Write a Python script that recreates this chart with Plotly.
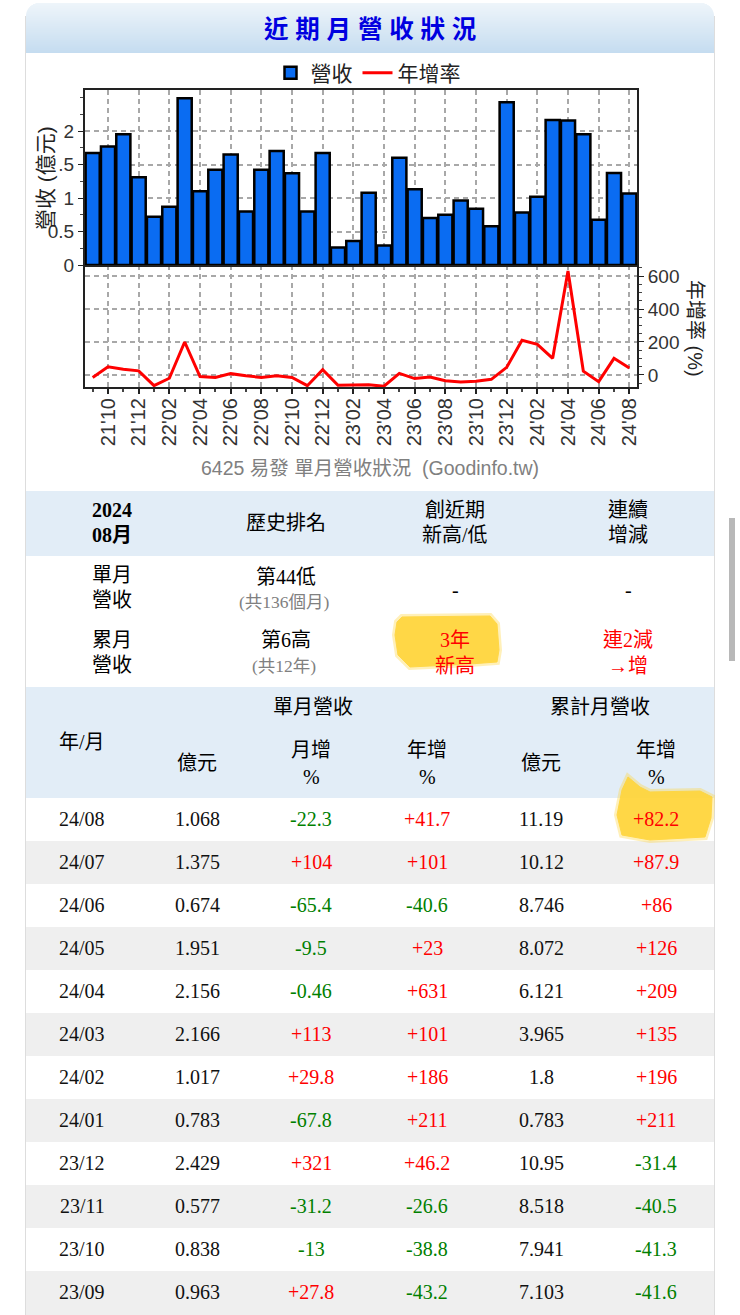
import math
import plotly.graph_objects as go

W, H = 740, 1315
months = ["21'09","21'10","21'11","21'12","22'01","22'02","22'03","22'04","22'05","22'06","22'07","22'08",
          "22'09","22'10","22'11","22'12","23'01","23'02","23'03","23'04","23'05","23'06","23'07","23'08",
          "23'09","23'10","23'11","23'12","24'01","24'02","24'03","24'04","24'05","24'06","24'07","24'08"]
revenue = [1.67,1.77,1.95,1.31,0.72,0.87,2.49,1.10,1.42,1.65,0.80,1.42,
           1.70,1.37,0.80,1.67,0.26,0.36,1.08,0.29,1.60,1.13,0.70,0.75,
           0.963,0.838,0.577,2.429,0.783,1.017,2.166,2.156,1.951,0.674,1.375,1.068]
yoy = [-15,50,35,25,-65,-20,200,-10,-15,8,-5,-15,
       -5,-15,-65,32,-62,-62,-60,-68,10,-22,-12,-35,
       -43.2,-38.8,-26.6,46.2,211,186,101,631,23,-40.6,101,41.7]

rev_ticks = [0,0.5,1,1.5,2]
rev_labels = ["0","0.5","1",".5","2"]
yoy_ticks = [0,200,400,600]

t_month = ["24/08","24/07","24/06","24/05","24/04","24/03","24/02","24/01","23/12","23/11","23/10","23/09"]
t_rev = ["1.068","1.375","0.674","1.951","2.156","2.166","1.017","0.783","2.429","0.577","0.838","0.963"]
t_mom = ["-22.3","+104","-65.4","-9.5","-0.46","+113","+29.8","-67.8","+321","-31.2","-13","+27.8"]
t_yoy = ["+41.7","+101","-40.6","+23","+631","+101","+186","+211","+46.2","-26.6","-38.8","-43.2"]
t_cum = ["11.19","10.12","8.746","8.072","6.121","3.965","1.8","0.783","10.95","8.518","7.941","7.103"]
t_cumyoy = ["+82.2","+87.9","+86","+126","+209","+135","+196","+211","-31.4","-40.5","-41.3","-41.6"]

SANS = "Liberation Sans, Noto Sans CJK TC"
SERIF = "Liberation Serif, Noto Sans CJK TC"
px = lambda x: x / W
py = lambda y: 1 - y / H

idx = list(range(len(months)))
tick_idx = idx[1::2]
tick_txt = months[1::2]

fig = go.Figure()
fig.add_bar(x=idx, y=revenue, name="營收", marker=dict(color="#0a6cf2", line=dict(color="#000", width=2.5)),
            xaxis="x2", yaxis="y")
fig.add_scatter(x=idx, y=yoy, name="年增率", mode="lines", line=dict(color="#ff0000", width=3),
                xaxis="x", yaxis="y2")

shapes = []
def rect(x0, y0, x1, y1, color, layer="below"):
    shapes.append(dict(type="rect", xref="paper", yref="paper", x0=px(x0), x1=px(x1), y0=py(y0), y1=py(y1),
                       fillcolor=color, line=dict(width=0), layer=layer))

# panel and title gradient with rounded top corners
c0, c1 = (238, 245, 250), (197, 220, 240)
R = 13
for i in range(50):
    t = i / 49
    col = "rgb(%d,%d,%d)" % tuple(round(a + (b - a) * t) for a, b in zip(c0, c1))
    inset = R - math.sqrt(R * R - (R - i - 0.5) ** 2) if i < R else 0
    rect(26 + inset, 3 + i, 714 - inset, 4 + i, col)
for xv in (25.5, 714.5):
    shapes.append(dict(type="line", xref="paper", yref="paper", x0=px(xv), x1=px(xv), y0=py(16), y1=0,
                       line=dict(color="#dddddd", width=1), layer="below"))
# table backgrounds
rect(26, 491, 714, 556, "#e2edf7")
rect(26, 687, 714, 798, "#e2edf7")
ROW0, ROWH = 798, 43
for i in range(len(t_month)):
    if i % 2 == 1:
        rect(26, ROW0 + i * ROWH, 714, min(H, ROW0 + (i + 1) * ROWH + (1 if i == len(t_month) - 1 else 0)), "#efefef")
# scrollbar
shapes.append(dict(type="rect", xref="paper", yref="paper", x0=px(729), x1=px(735), y0=py(518), y1=py(661),
                   fillcolor="#b8b8b8", line=dict(width=0), layer="below"))
# yellow marker highlights
def blob(points, opacity, width):
    d = "M " + " L ".join(f"{px(x):.5f},{py(y):.5f}" for x, y in points) + " Z"
    shapes.append(dict(type="path", xref="paper", yref="paper", path=d, fillcolor="#ffd53a",
                       line=dict(color="#ffd53a", width=width), opacity=opacity, layer="below"))
b1 = [(402,617),(490,616),(497,624),(499,650),(497,662),(470,664),(410,667),(398,655),(395,635),(397,622)]
b2 = [(628,777),(640,787),(650,792),(700,791),(712,797),(711,818),(705,837),(650,840),(622,835),(617,815),(622,790)]
for b in (b1, b2):
    blob(b, 0.35, 6)
    blob(b, 0.9, 1)

ann = []
def txt(x, y, s, size=20, color="#000", font=SERIF, **kw):
    ann.append(dict(xref="paper", yref="paper", x=px(x), y=py(y), text=s, showarrow=False,
                    xanchor=kw.pop("xanchor", "center"), yanchor="middle",
                    font=dict(size=size, color=color, family=font), **kw))

txt(370, 30, "<b>近 期 月 營 收 狀 況</b>", size=24.5, color="#0000e0", font=SANS)
txt(46, 178, "營收 (億元)", size=21, color="#222", font=SANS, textangle=-90)
txt(695, 328, "年增率 (%)", size=20, color="#222", font=SANS, textangle=90)
txt(370, 468, "6425 易發 單月營收狀況  (Goodinfo.tw)", size=19.5, color="#808080", font=SANS)

# summary table
txt(112, 510, "<b>2024</b>"); txt(112, 535, "<b>08月</b>")
txt(286, 523, "歷史排名")
txt(455, 510, "創近期"); txt(455, 535, "新高/低")
txt(628, 510, "連續"); txt(628, 535, "增減")
txt(112, 575, "單月"); txt(112, 600, "營收")
txt(286, 577, "第44低"); txt(284, 602, "(共136個月)", size=17.5, color="#808080")
txt(455, 590, "-"); txt(628, 590, "-")
txt(112, 640, "累月"); txt(112, 665, "營收")
txt(286, 640, "第6高"); txt(284, 666, "(共12年)", size=17.5, color="#808080")
txt(455, 640, "3年", color="#ff0000"); txt(455, 666, "新高", color="#ff0000")
txt(628, 640, "連2減", color="#ff0000"); txt(628, 666, "→增", color="#ff0000")

# monthly table header
COLS = [82, 197, 311, 427, 541, 656]
txt(313, 707, "單月營收"); txt(600, 707, "累計月營收")
txt(COLS[0], 742, "年/月")
txt(COLS[1], 763, "億元"); txt(COLS[4], 763, "億元")
for c, s in ((2, "月增"), (3, "年增"), (5, "年增")):
    txt(COLS[c], 750, s); txt(COLS[c], 777, "%", size=20)

def sign_color(s):
    return "#ff0000" if s.startswith("+") else "#008000"
for i in range(len(t_month)):
    y = ROW0 + (i + 0.5) * ROWH - 0.5
    txt(COLS[0], y, t_month[i], color="#111")
    txt(COLS[1], y, t_rev[i], color="#111")
    txt(COLS[2], y, t_mom[i], color=sign_color(t_mom[i]))
    txt(COLS[3], y, t_yoy[i], color=sign_color(t_yoy[i]))
    txt(COLS[4], y, t_cum[i], color="#111")
    txt(COLS[5], y, t_cumyoy[i], color=sign_color(t_cumyoy[i]))

dom_x = [px(85), px(637)]
grid = dict(showgrid=True, gridcolor="#a8a8a8", griddash="5px,4px", gridwidth=1.5)
xcommon = dict(domain=dom_x, range=[-0.5, 35.5], tickmode="array", tickvals=tick_idx, **grid,
               showline=True, linecolor="#222", linewidth=2, mirror=True, zeroline=False)
fig.update_layout(
    width=W, height=H, margin=dict(l=0, r=0, t=0, b=0, autoexpand=False), autosize=False,
    paper_bgcolor="#ffffff", plot_bgcolor="#ffffff", bargap=0.08,
    font=dict(family=SANS, color="#333"),
    shapes=shapes, annotations=ann,
    legend=dict(orientation="h", x=px(368), y=py(73), xanchor="center", yanchor="middle",
                font=dict(size=21, color="#222", family=SANS), bgcolor="rgba(0,0,0,0)", itemwidth=30),
    xaxis=dict(anchor="y2", ticktext=tick_txt, ticks="outside", ticklen=5, tickwidth=1.5, tickcolor="#222",
               tickangle=-90, tickfont=dict(size=20, color="#333", family=SANS), ticklabelstandoff=-4,
               minor=dict(dtick=1, tick0=0, ticks="outside", ticklen=3, tickcolor="#444", showgrid=False),
               **xcommon),
    xaxis2=dict(anchor="y", ticktext=tick_txt, showticklabels=False, ticks="", **xcommon),
    yaxis=dict(domain=[py(265), py(90)], range=[0, 175 / 67], tickmode="array", tickvals=rev_ticks,
               ticktext=rev_labels, ticks="outside", ticklen=5, tickcolor="#222",
               tickfont=dict(size=19, color="#333", family=SANS),
               minor=dict(dtick=0.25, ticks="outside", ticklen=3, tickcolor="#444", showgrid=False),
               showline=True, linecolor="#222", linewidth=2, mirror=True, zeroline=False, **grid),
    yaxis2=dict(domain=[py(387), py(265)], range=[-73, 667], side="right", anchor="x", tickmode="array",
                tickvals=yoy_ticks, ticks="outside", ticklen=5, tickcolor="#222",
                tickfont=dict(size=19, color="#333", family=SANS),
                minor=dict(dtick=50, ticks="outside", ticklen=3, tickcolor="#444", showgrid=False),
                showline=True, linecolor="#222", linewidth=2, mirror=True, zeroline=False, **grid),
)
fig.write_html("out.html", config={"displayModeBar": False},
               post_script="document.body.style.margin='0';document.body.style.overflow='hidden';")
